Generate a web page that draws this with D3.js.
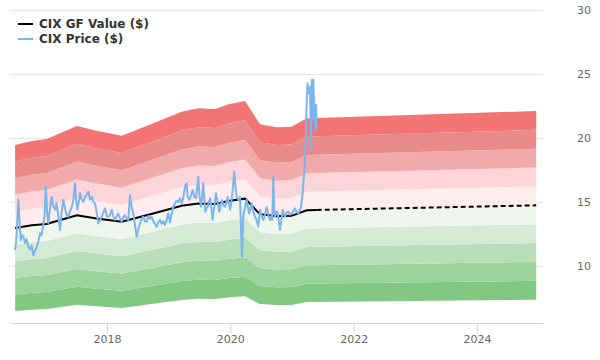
<!DOCTYPE html>
<html><head><meta charset="utf-8">
<script src="https://cdn.jsdelivr.net/npm/d3@7"></script>
<style>body{margin:0;background:#fff} svg{display:block;font-family:"DejaVu Sans",sans-serif}</style>
</head><body><svg id="c" width="600" height="360"></svg>
<script>
// ---- data (decimal years) ----
const gfYears = [2016.51,2016.78,2017.02,2017.51,2017.83,2018.24,2018.75,2019.21,2019.48,2019.75,2019.99,2020.24,2020.48,2020.75,2020.99,2021.24,2021.40,2024.96];
const gfValues = [12.97,13.18,13.28,13.96,13.71,13.45,14.10,14.70,14.88,14.84,15.10,15.26,14.05,13.89,13.92,14.36,14.38,14.74];
const gfActualCount = 17; // points up to today (solid), rest projected (dashed)

const priceYears = [2016.508,2016.533,2016.562,2016.581,2016.601,2016.622,2016.643,2016.670,2016.695,2016.724,2016.751,2016.776,2016.805,2016.833,2016.860,2016.886,2016.914,2016.938,2016.967,2016.987,2017.006,2017.027,2017.048,2017.076,2017.103,2017.124,2017.157,2017.181,2017.210,2017.238,2017.262,2017.291,2017.319,2017.343,2017.372,2017.400,2017.428,2017.454,2017.481,2017.497,2017.518,2017.541,2017.562,2017.587,2017.616,2017.643,2017.671,2017.697,2017.724,2017.752,2017.778,2017.805,2017.833,2017.859,2017.886,2017.914,2017.940,2017.968,2017.995,2018.021,2018.049,2018.076,2018.102,2018.130,2018.157,2018.183,2018.211,2018.238,2018.264,2018.292,2018.319,2018.345,2018.373,2018.401,2018.427,2018.454,2018.482,2018.508,2018.535,2018.563,2018.589,2018.616,2018.644,2018.670,2018.697,2018.725,2018.751,2018.778,2018.806,2018.832,2018.859,2018.887,2018.913,2018.940,2018.968,2018.994,2019.022,2019.046,2019.075,2019.103,2019.130,2019.156,2019.184,2019.211,2019.237,2019.265,2019.292,2019.305,2019.335,2019.362,2019.390,2019.416,2019.443,2019.464,2019.480,2019.500,2019.524,2019.544,2019.562,2019.578,2019.594,2019.613,2019.633,2019.654,2019.675,2019.695,2019.714,2019.740,2019.768,2019.795,2019.821,2019.844,2019.865,2019.892,2019.918,2019.938,2019.957,2019.978,2019.999,2020.019,2020.038,2020.064,2020.084,2020.103,2020.136,2020.157,2020.173,2020.189,2020.210,2020.230,2020.265,2020.286,2020.307,2020.327,2020.346,2020.372,2020.400,2020.427,2020.453,2020.481,2020.508,2020.534,2020.562,2020.590,2020.616,2020.643,2020.667,2020.680,2020.697,2020.711,2020.724,2020.744,2020.761,2020.784,2020.805,2020.826,2020.849,2020.870,2020.886,2020.914,2020.940,2020.967,2020.995,2021.021,2021.048,2021.076,2021.102,2021.125,2021.146,2021.173,2021.199,2021.222,2021.238,2021.251,2021.267,2021.292,2021.308,2021.319,2021.335,2021.345,2021.357,2021.378,2021.389,2021.400];
const priceValues = [11.25,12.3,15.2,13.5,12.0,12.4,12.3,11.8,12.1,11.5,11.3,11.6,10.86,11.2,11.5,11.9,12.55,12.4,13.3,14.0,16.2,14.2,13.35,14.6,15.4,14.7,14.4,14.9,13.85,12.8,14.2,15.16,14.5,14.0,13.85,14.3,14.6,15.2,16.46,15.2,14.4,15.0,15.7,15.2,15.0,15.4,15.6,15.8,15.2,15.4,15.0,14.9,14.2,13.33,13.6,13.85,14.2,14.5,13.9,13.85,14.0,14.4,13.9,13.6,13.9,14.1,13.7,13.46,13.8,13.98,13.7,13.6,15.55,14.5,14.1,13.2,12.3,12.9,13.33,13.7,13.85,13.5,13.46,13.9,13.7,13.85,13.5,13.3,13.07,13.4,13.6,13.3,13.5,13.2,13.6,14.1,13.4,14.0,14.63,14.9,15.1,15.0,15.3,14.9,15.3,16.2,16.46,15.5,15.16,15.5,15.94,15.4,15.3,16.2,16.98,15.5,14.63,15.5,16.46,15.2,14.24,14.5,14.63,15.0,15.29,14.5,13.6,14.6,15.68,15.0,14.24,14.8,15.16,14.7,14.63,15.0,15.42,14.9,14.4,15.0,15.9,17.37,16.2,15.4,15.16,15.4,13.07,10.73,13.85,14.4,15.16,14.6,14.1,14.5,14.9,14.3,13.85,13.6,13.07,14.4,13.9,13.6,14.0,14.6,14.0,13.6,13.9,13.6,16.98,14.5,13.85,14.2,14.24,13.6,12.8,13.5,14.4,14.0,13.85,14.2,14.24,14.0,14.1,14.3,14.5,14.2,14.1,14.4,14.63,15.68,17.5,20.1,22.7,24.27,23.5,24.0,19.06,24.53,21.4,24.58,22.8,20.6,22.6,20.8];

const bandMultipliers = [0.5,0.6,0.7,0.8,0.9,1.0,1.1,1.2,1.3,1.4,1.5];
const bandColors = ["#82c882","#9cd29c","#b8deb8","#d4ead4","#eef6ee","#ffecee","#fdd4d9","#f0aaaa","#e88a8a","#f27474"];
const yTicks = [10,15,20,25,30];
const xTickYears = [2018,2020,2022,2024];
const legendLabels = ["CIX GF Value ($)","CIX Price ($)"];
const legendColors = ["#000000","#7cb5ec"];

// ---- helpers ----
function yd(y){const yr=Math.floor(y);const s=new Date(yr,0,1),e=new Date(yr+1,0,1);return new Date(+s+(y-yr)*(e-s));}

const svg = d3.select("#c");
const L=10,R=543,T=10,B=323;
const x = d3.scaleTime().domain([yd(2016.427),yd(2025.070)]).range([L,R]);
const y = d3.scaleLinear().domain([5.547,30]).range([B,T]);

// gridlines
svg.append("g").selectAll("line").data(yTicks).join("line")
  .attr("x1",L).attr("x2",R).attr("y1",d=>y(d)).attr("y2",d=>y(d))
  .attr("stroke","#e6e6e6").attr("stroke-width",1).attr("shape-rendering","crispEdges");

// bands
const gf = gfYears.map((t,i)=>({d:yd(t),v:gfValues[i]}));
for(let i=0;i<bandMultipliers.length-1;i++){
  const m0=bandMultipliers[i], m1=bandMultipliers[i+1];
  const area=d3.area().x(p=>x(p.d)).y0(p=>y(p.v*m0)).y1(p=>y(p.v*m1));
  svg.append("path").datum(gf).attr("d",area).attr("fill",bandColors[i]);
}

// GF value line
const line = d3.line().x(p=>x(p.d)).y(p=>y(p.v));
svg.append("path").datum(gf.slice(0,gfActualCount)).attr("d",line)
  .attr("fill","none").attr("stroke","#000").attr("stroke-width",2);
svg.append("path").datum(gf.slice(gfActualCount-1)).attr("d",line)
  .attr("fill","none").attr("stroke","#000").attr("stroke-width",2).attr("stroke-dasharray","5,3");

// price line
const price = priceYears.map((t,i)=>({d:yd(t),v:priceValues[i]}));
svg.append("path").datum(price).attr("d",line)
  .attr("fill","none").attr("stroke","#7cb5ec").attr("stroke-width",2).attr("stroke-linejoin","round");

// x axis
const xAxis = d3.axisBottom(x).tickValues(xTickYears.map(v=>new Date(v,0,1))).tickFormat(d3.timeFormat("%Y")).tickSize(10).tickSizeOuter(0);
const gx = svg.append("g").attr("transform",`translate(0,${B})`).call(xAxis);
gx.select(".domain").attr("stroke","#ccd6eb");
gx.selectAll(".tick line").attr("stroke","#ccd6eb");
gx.selectAll(".tick text").attr("fill","#666").attr("font-size",11).attr("font-family","DejaVu Sans").attr("dy","1.1em").attr("y",8);

// y axis (right, labels only)
const yAxis = d3.axisRight(y).tickValues(yTicks).tickSize(0).tickPadding(0);
const gy = svg.append("g").attr("transform",`translate(577,0)`).call(yAxis);
gy.select(".domain").remove();
gy.selectAll(".tick text").attr("fill","#666").attr("font-size",11).attr("font-family","DejaVu Sans");

// legend
const lg = svg.append("g");
legendLabels.forEach((t,i)=>{
  const yy = 24 + i*15;
  lg.append("line").attr("x1",18).attr("x2",33).attr("y1",yy).attr("y2",yy).attr("stroke",legendColors[i]).attr("stroke-width",2);
  lg.append("text").attr("x",39).attr("y",yy+4).text(t).attr("font-size",12).attr("font-weight","bold").attr("fill","#333");
});
</script></body></html>
